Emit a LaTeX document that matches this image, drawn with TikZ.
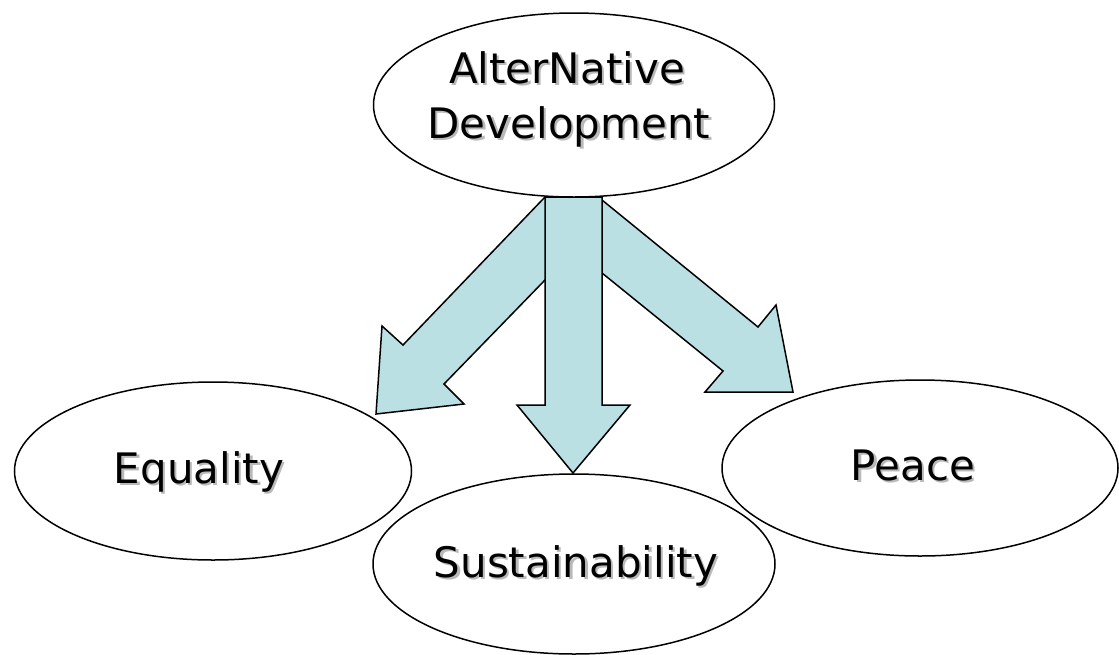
\documentclass[tikz,border=0pt]{standalone}
\usepackage{fontspec}
\setmainfont{DejaVu Sans}
\usetikzlibrary{shapes.geometric}
\definecolor{arrowblue}{RGB}{187,224,228}
\definecolor{shadowgray}{RGB}{185,185,185}
\newcommand\shtext[1]{\rlap{\hspace{2.2pt}\raisebox{-2.2pt}{\textcolor{shadowgray}{#1}}}#1}
\tikzset{
  oval/.style={ellipse, draw=black, line width=1.5pt, fill=white, inner sep=0pt},
  lbl/.style={anchor=base, inner sep=0pt, font=\fontsize{42}{50}\selectfont},
  blockarrow/.style={draw=black, line width=1.5pt, fill=arrowblue, line join=miter}
}
\begin{document}
\begin{tikzpicture}[x=1pt, y=-1pt]
\useasboundingbox (0,0) rectangle (1119,654);
% named points of the block arrows
\coordinate (L1) at (545,197); \coordinate (L2) at (403,345); \coordinate (L3) at (382,326);
\coordinate (L4) at (376,414); \coordinate (L5) at (464,404); \coordinate (L6) at (444,384);
\coordinate (L7) at (545,280);
\coordinate (R1) at (602,200); \coordinate (R2) at (758,327); \coordinate (R3) at (776,305);
\coordinate (R4) at (793,392); \coordinate (R5) at (705,392); \coordinate (R6) at (723,371);
\coordinate (R7) at (602,273);
\coordinate (C1) at (545,197); \coordinate (C2) at (545,405); \coordinate (C3) at (517,405);
\coordinate (C4) at (573,473); \coordinate (C5) at (630,405); \coordinate (C6) at (602,405);
\coordinate (C7) at (602,197);
% side arrows
\draw[blockarrow] (L1) -- (L2) -- (L3) -- (L4) -- (L5) -- (L6) -- (L7) -- (560,270) -- (560,197) -- cycle;
\draw[blockarrow] (R1) -- (R2) -- (R3) -- (R4) -- (R5) -- (R6) -- (R7) -- (590,265) -- (590,200) -- cycle;
% central arrow
\draw[blockarrow] (C1) -- (C2) -- (C3) -- (C4) -- (C5) -- (C6) -- (C7) -- cycle;
% ellipses
\node[oval, minimum width=401pt, minimum height=184pt] (alt) at (574,105) {};
\node[oval, minimum width=397pt, minimum height=178pt] (eq) at (213,471) {};
\node[oval, minimum width=402pt, minimum height=180pt] (sus) at (574,564) {};
\node[oval, minimum width=396pt, minimum height=176pt] (peace) at (920,468) {};
% labels
\node[lbl] (altA) at (567,83) {\shtext{AlterNative}};
\node[lbl] (altB) at (569,138) {\shtext{Development}};
\node[lbl] (eqt) at (199,483) {\shtext{Equality}};
\node[lbl] (sust) at (576,577) {\shtext{Sustainability}};
\node[lbl] (peacet) at (913,480) {\shtext{Peace}};
\end{tikzpicture}
\end{document}
